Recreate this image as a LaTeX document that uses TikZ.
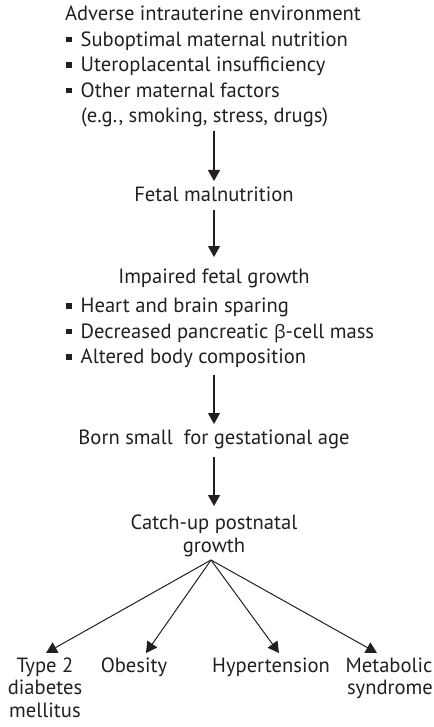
\documentclass[tikz,border=0pt]{standalone}
\usepackage{fontspec}
\setmainfont{PT Sans}
\newfontfamily\grk{Open Sans}
\usetikzlibrary{arrows.meta}
\definecolor{ink}{HTML}{231F20}
\newcommand{\bul}{\textcolor{ink}{\rule[4pt]{5.5pt}{5.5pt}}\hspace{9pt}}
\begin{document}
\begin{tikzpicture}[x=1pt,y=-1pt,
  txt/.style={inner sep=0pt,text=ink,font=\fontsize{20.6}{22.5}\selectfont},
  arr/.style={draw=ink,line width=1.3pt,-{Triangle[width=12pt,length=11pt]}},
  farr/.style={draw=ink,line width=1pt,-{Triangle[width=12pt,length=11pt]}}]
\useasboundingbox (0,0) rectangle (433,727);
% top block
\node[txt,anchor=base] (adv) at (213,21) {Adverse intrauterine environment};
\node[txt,anchor=base west] (b1) at (66,46.5) {\bul Suboptimal maternal nutrition};
\node[txt,anchor=base west] (b2) at (66,72) {\bul Uteroplacental insufficiency};
\node[txt,anchor=base west] (b3) at (66,97.5) {\bul Other maternal factors};
\node[txt,anchor=base west] (b4) at (81,123) {(e.g., smoking, stress, drugs)};
% middle
\node[txt,anchor=base] (fetal) at (214,202) {Fetal malnutrition};
\node[txt,anchor=base] (imp) at (214,283) {Impaired fetal growth};
\node[txt,anchor=base west] (c1) at (66,312.5) {\bul Heart and brain sparing};
\node[txt,anchor=base west] (c2) at (66,338) {\bul Decreased pancreatic {\grk\fontsize{18.5}{22}\selectfont β}-cell mass};
\node[txt,anchor=base west] (c3) at (66,363.5) {\bul Altered body composition};
\node[txt,anchor=base] (born) at (214,444) {Born small\ \ for gestational age};
\node[txt,anchor=base] (catch) at (214,529) {Catch-up postnatal};
\node[txt,anchor=base] (grow) at (214,552) {growth};
\coordinate (fan) at (211,560);
% bottom
\node[txt,anchor=base] (t2) at (45,672) {Type 2};
\node[txt,anchor=base] (t2b) at (45,694.5) {diabetes};
\node[txt,anchor=base] (t2c) at (45,717) {mellitus};
\node[txt,anchor=base] (ob) at (134,672) {Obesity};
\node[txt,anchor=base] (hy) at (271,672) {Hypertension};
\node[txt,anchor=base] (me) at (389,672) {Metabolic};
\node[txt,anchor=base] (meb) at (390,694.5) {syndrome};
% arrows
\coordinate (a1s) at (214,131);
\coordinate (a1e) at (214,181);
\draw[arr] (a1s) -- (a1e);
\coordinate (a2s) at (214,210);
\coordinate (a2e) at (214,257);
\draw[arr] (a2s) -- (a2e);
\coordinate (a3s) at (214,375);
\coordinate (a3e) at (214,424);
\draw[arr] (a3s) -- (a3e);
\coordinate (a4s) at (214,457);
\coordinate (a4e) at (214,506);
\draw[arr] (a4s) -- (a4e);
\coordinate (e1) at (46,653);
\coordinate (e2) at (146,653);
\coordinate (e3) at (279,653);
\coordinate (e4) at (377,653);
\draw[farr] (fan) -- (e1);
\draw[farr] (fan) -- (e2);
\draw[farr] (fan) -- (e3);
\draw[farr] (fan) -- (e4);
\end{tikzpicture}
\end{document}
